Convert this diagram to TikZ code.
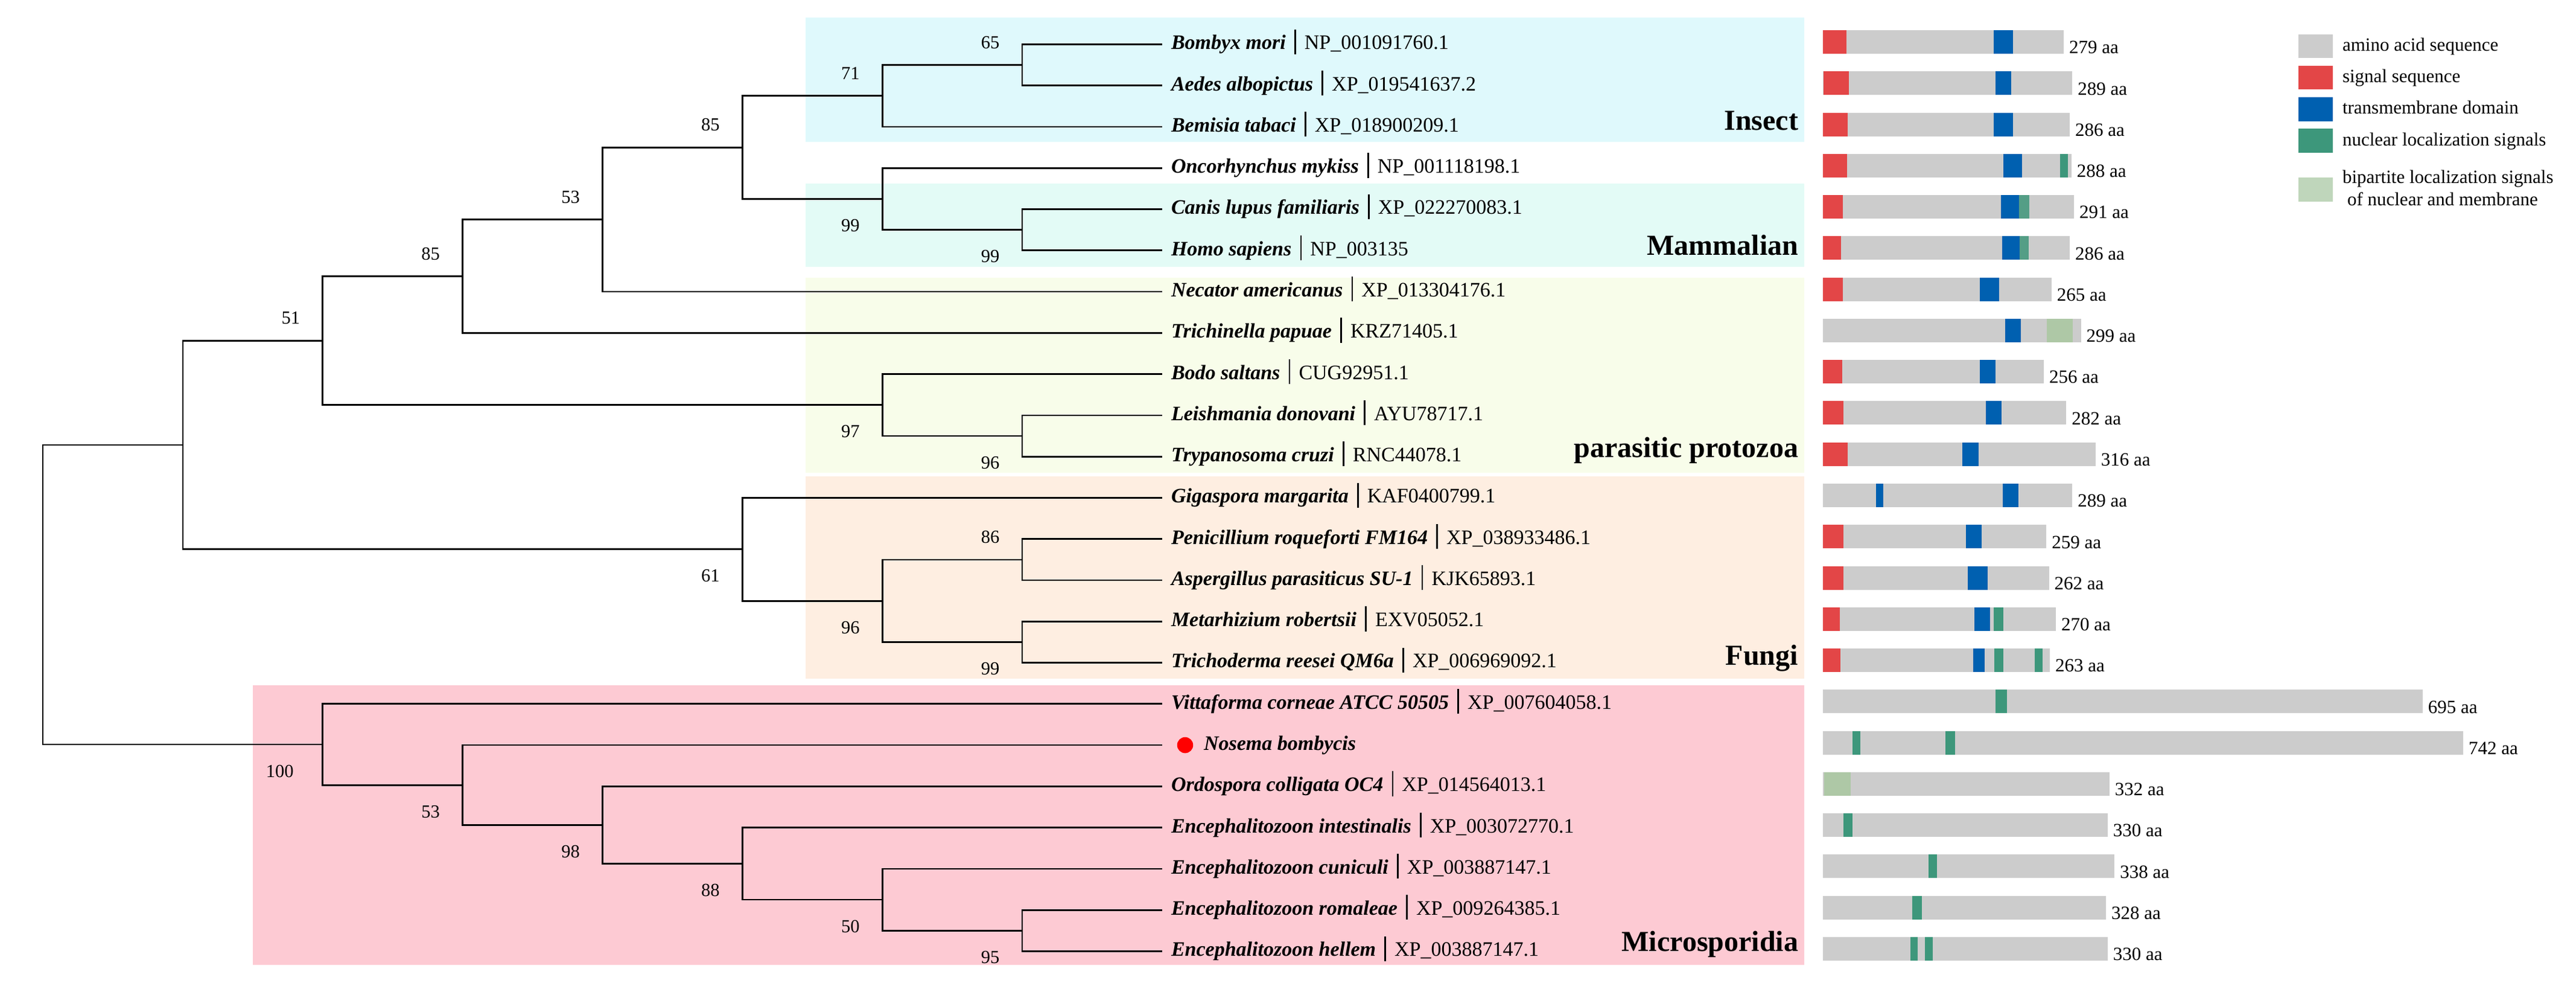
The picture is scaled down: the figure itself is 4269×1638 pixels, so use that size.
\documentclass[tikz,border=0pt]{standalone}
\usepackage{fontspec}
\setmainfont{Liberation Serif}
\definecolor{cInsect}{HTML}{DFF9FC}
\definecolor{cMammal}{HTML}{E3FBF6}
\definecolor{cProto}{HTML}{F8FDEA}
\definecolor{cFungi}{HTML}{FEEEE1}
\definecolor{cMicro}{HTML}{FDCAD3}
\definecolor{aaGray}{HTML}{CCCCCC}
\definecolor{sigRed}{HTML}{E34647}
\definecolor{tmBlue}{HTML}{0060B0}
\definecolor{nlsGreen}{HTML}{3D977B}
\definecolor{nlsGreenB}{HTML}{549E86}
\definecolor{bipGreen}{HTML}{AEC8A6}
\definecolor{bipLegend}{HTML}{BFD6BB}
\newcommand\sepbar{\hspace{0.42em}\rule[-0.23em]{0.5pt}{1.21em}\hspace{0.42em}}
\newcommand\protrow[2]{%
  \fill[aaGray] (3021,{50+68.27*#1}) rectangle ({3021+1.43*#2},{89+68.27*#1});
  \node[aalab] (aa#1) at ({3029+1.43*#2},{88.8+68.27*#1}) {#2 aa};}
\newcommand\pseg[4]{%
  \fill[#1] ({3021+1.43*#3},{50+68.27*#2}) rectangle ({3021+1.43*#4},{89+68.27*#2});}
\tikzset{
  branch/.style={line width=0.55pt},
  leaflab/.style={anchor=base west, inner sep=0pt, font=\fontsize{6.8}{8}\selectfont},
  bs/.style={inner sep=0pt, font=\fontsize{6.1}{7}\selectfont},
  aalab/.style={anchor=base west, inner sep=0pt, font=\fontsize{6.2}{7}\selectfont},
  leg/.style={anchor=base west, inner sep=0pt, font=\fontsize{6.2}{7}\selectfont},
  grp/.style={anchor=base east, inner sep=0pt, font=\fontsize{9.6}{11}\selectfont\bfseries},
}
\begin{document}
\begin{tikzpicture}[x=0.2pt,y=-0.2pt]
\fill[white] (0,0) rectangle (4269,1638);
\useasboundingbox (0,0) rectangle (4269,1638);
% clade backgrounds
\fill[cInsect] (1335,28.8) rectangle (2990,234.8);
\fill[cMammal] (1335,304.4) rectangle (2990,442.5);
\fill[cProto] (1335,460.3) rectangle (2990,783);
\fill[cFungi] (1335,788.7) rectangle (2990,1124);
\fill[cMicro] (419,1135) rectangle (2990,1598);
% leaves
\foreach \i/\sp/\acc in {
  0/Bombyx mori/NP\_001091760.1,
  1/Aedes albopictus/XP\_019541637.2,
  2/Bemisia tabaci/XP\_018900209.1,
  3/Oncorhynchus mykiss/NP\_001118198.1,
  4/Canis lupus familiaris/XP\_022270083.1,
  5/Homo sapiens/NP\_003135,
  6/Necator americanus/XP\_013304176.1,
  7/Trichinella papuae/KRZ71405.1,
  8/Bodo saltans/CUG92951.1,
  9/Leishmania donovani/AYU78717.1,
  10/Trypanosoma cruzi/RNC44078.1,
  11/Gigaspora margarita/KAF0400799.1,
  12/Penicillium roqueforti FM164/XP\_038933486.1,
  13/Aspergillus parasiticus SU-1/KJK65893.1,
  14/Metarhizium robertsii/EXV05052.1,
  15/Trichoderma reesei QM6a/XP\_006969092.1,
  16/Vittaforma corneae ATCC 50505/XP\_007604058.1,
  18/Ordospora colligata OC4/XP\_014564013.1,
  19/Encephalitozoon intestinalis/XP\_003072770.1,
  20/Encephalitozoon cuniculi/XP\_003887147.1,
  21/Encephalitozoon romaleae/XP\_009264385.1,
  22/Encephalitozoon hellem/XP\_003887147.1}{
  \coordinate (L\i) at (1926,{73.5+68.27*\i});
  \node[leaflab] (t\i) at (1940,{81.9+68.27*\i}) {\textbf{\textit{\sp}}\sepbar\acc};
}
\coordinate (L17) at (1926,1234.09);
\node[circle,fill=red,inner sep=0pt,minimum size=5.3pt] (dot) at (1964,1234.09) {};
\node[leaflab] (t17) at (1994,1242.49) {\textbf{\textit{Nosema bombycis}}};
% internal nodes
\coordinate (nI1) at (1694.1,107.64);
\coordinate (nI) at (1462.25,158.84);
\coordinate (nM1) at (1694.1,380.72);
\coordinate (nM) at (1462.25,329.51);
\coordinate (nIM) at (1230.4,244.18);
\coordinate (n53) at (998.5,363.65);
\coordinate (n85b) at (766.6,457.52);
\coordinate (nP1) at (1694.1,722.07);
\coordinate (nP) at (1462.25,670.86);
\coordinate (n51) at (534.75,564.19);
\coordinate (nF1) at (1694.1,926.88);
\coordinate (nF2) at (1694.1,1063.42);
\coordinate (nF3) at (1462.25,995.15);
\coordinate (nF) at (1230.4,909.81);
\coordinate (nA) at (302.9,737.0);
\coordinate (nE1) at (1694.1,1541.31);
\coordinate (nE2) at (1462.25,1490.1);
\coordinate (nE3) at (1230.4,1430.37);
\coordinate (nE4) at (998.5,1366.37);
\coordinate (nE5) at (766.6,1300.23);
\coordinate (nMic) at (534.75,1233.03);
\coordinate (root) at (71,985);
% branches
\draw[branch] (L0) -| (nI1) |- (L1);
\draw[branch] (nI1) -| (nI) |- (L2);
\draw[branch] (L4) -| (nM1) |- (L5);
\draw[branch] (L3) -| (nM) |- (nM1);
\draw[branch] (nI) -| (nIM) |- (nM);
\draw[branch] (nIM) -| (n53) |- (L6);
\draw[branch] (n53) -| (n85b) |- (L7);
\draw[branch] (L9) -| (nP1) |- (L10);
\draw[branch] (L8) -| (nP) |- (nP1);
\draw[branch] (n85b) -| (n51) |- (nP);
\draw[branch] (L12) -| (nF1) |- (L13);
\draw[branch] (L14) -| (nF2) |- (L15);
\draw[branch] (nF1) -| (nF3) |- (nF2);
\draw[branch] (L11) -| (nF) |- (nF3);
\draw[branch] (n51) -| (nA) |- (nF);
\draw[branch] (L21) -| (nE1) |- (L22);
\draw[branch] (L20) -| (nE2) |- (nE1);
\draw[branch] (L19) -| (nE3) |- (nE2);
\draw[branch] (L18) -| (nE4) |- (nE3);
\draw[branch] (L17) -| (nE5) |- (nE4);
\draw[branch] (L16) -| (nMic) |- (nE5);
\draw[branch] (nA) -| (root) |- (nMic);
% bootstrap values
\node[bs] (b1) at (1641.1,70.14) {65};
\node[bs] (b2) at (1409.25,121.34) {71};
\node[bs] (b3) at (1409.25,373.51) {99};
\node[bs] (b4) at (1641.1,424.72) {99};
\node[bs] (b5) at (1177.4,206.68) {85};
\node[bs] (b6) at (945.5,326.15) {53};
\node[bs] (b7) at (713.6,420.02) {85};
\node[bs] (b8) at (481.75,526.69) {51};
\node[bs] (b9) at (1409.25,714.86) {97};
\node[bs] (b10) at (1641.1,766.07) {96};
\node[bs] (b11) at (1177.4,953.81) {61};
\node[bs] (b12) at (1641.1,889.38) {86};
\node[bs] (b13) at (1409.25,1039.15) {96};
\node[bs] (b14) at (1641.1,1107.42) {99};
\node[bs] (b15) at (463.75,1277.03) {100};
\node[bs] (b16) at (713.6,1344.23) {53};
\node[bs] (b17) at (945.5,1410.37) {98};
\node[bs] (b18) at (1177.4,1474.37) {88};
\node[bs] (b19) at (1409.25,1534.1) {50};
\node[bs] (b20) at (1641.1,1585.31) {95};
% group labels
\node[grp] (gI) at (2981,215.5) {Insect};
\node[grp] (gM) at (2981,422.6) {Mammalian};
\node[grp] (gP) at (2981,757) {parasitic protozoa};
\node[grp] (gF) at (2981,1101) {Fungi};
\node[grp] (gMi) at (2981,1575) {Microsporidia};
% protein bars
\protrow{0}{279}\pseg{sigRed}{0}{0}{27}\pseg{tmBlue}{0}{198}{220.5}
\protrow{1}{289}\pseg{sigRed}{1}{0.8}{30}\pseg{tmBlue}{1}{200}{218}
\protrow{2}{286}\pseg{sigRed}{2}{0}{29}\pseg{tmBlue}{2}{198}{220.5}
\protrow{3}{288}\pseg{sigRed}{3}{0}{28}\pseg{tmBlue}{3}{209.3}{231}\pseg{nlsGreen}{3}{275}{284}
\protrow{4}{291}\pseg{sigRed}{4}{0}{23}\pseg{tmBlue}{4}{206.6}{227.3}\pseg{nlsGreenB}{4}{227.3}{239}
\protrow{5}{286}\pseg{sigRed}{5}{0}{21}\pseg{tmBlue}{5}{207.7}{227.7}\pseg{nlsGreenB}{5}{227.7}{238.5}
\protrow{6}{265}\pseg{sigRed}{6}{0}{23}\pseg{tmBlue}{6}{182}{204.3}
\protrow{7}{299}\pseg{tmBlue}{7}{211.3}{229.6}\pseg{bipGreen}{7}{259.6}{289.8}
\protrow{8}{256}\pseg{sigRed}{8}{0}{22.4}\pseg{tmBlue}{8}{181.8}{200}
\protrow{9}{282}\pseg{sigRed}{9}{0}{24}\pseg{tmBlue}{9}{188.8}{207}
\protrow{10}{316}\pseg{sigRed}{10}{0}{28.8}\pseg{tmBlue}{10}{161.2}{180.6}
\protrow{11}{289}\pseg{tmBlue}{11}{61.2}{70}\pseg{tmBlue}{11}{208.2}{226.5}
\protrow{12}{259}\pseg{sigRed}{12}{0}{23.5}\pseg{tmBlue}{12}{166}{184}
\protrow{13}{262}\pseg{sigRed}{13}{0}{23.5}\pseg{tmBlue}{13}{167.6}{190.6}
\protrow{14}{270}\pseg{sigRed}{14}{0}{19.4}\pseg{tmBlue}{14}{175.3}{193.5}\pseg{nlsGreen}{14}{197.6}{208.8}
\protrow{15}{263}\pseg{sigRed}{15}{0}{20.6}\pseg{tmBlue}{15}{174}{187.6}\pseg{nlsGreen}{15}{198.8}{208.8}\pseg{nlsGreen}{15}{245.3}{254.7}
\protrow{16}{695}\pseg{nlsGreen}{16}{200}{213.5}
\protrow{17}{742}\pseg{nlsGreen}{17}{34}{43.5}\pseg{nlsGreen}{17}{141.8}{153}
\protrow{18}{332}\pseg{bipGreen}{18}{1.2}{31.8}
\protrow{19}{330}\pseg{nlsGreen}{19}{24}{34}
\protrow{20}{338}\pseg{nlsGreen}{20}{122.4}{132.4}
\protrow{21}{328}\pseg{nlsGreen}{21}{103.5}{114.7}
\protrow{22}{330}\pseg{nlsGreen}{22}{101.2}{110}\pseg{nlsGreen}{22}{118.2}{127.6}
% legend
\fill[aaGray] (3809,56.7) rectangle (3866,96);
\fill[sigRed] (3809,109) rectangle (3866,148.3);
\fill[tmBlue] (3809,161) rectangle (3866,200.7);
\fill[nlsGreen] (3809,213.3) rectangle (3866,252.7);
\fill[bipLegend] (3809,294.3) rectangle (3866,333.7);
\node[leg] (l1) at (3881,84.3) {amino acid sequence};
\node[leg] (l2) at (3881,136.7) {signal sequence};
\node[leg] (l3) at (3881,189) {transmembrane domain};
\node[leg] (l4) at (3881,241.3) {nuclear localization signals};
\node[leg] (l5) at (3881,303.3) {bipartite localization signals};
\node[leg] (l6) at (3889,341) {of nuclear and membrane};
\end{tikzpicture}
\end{document}
